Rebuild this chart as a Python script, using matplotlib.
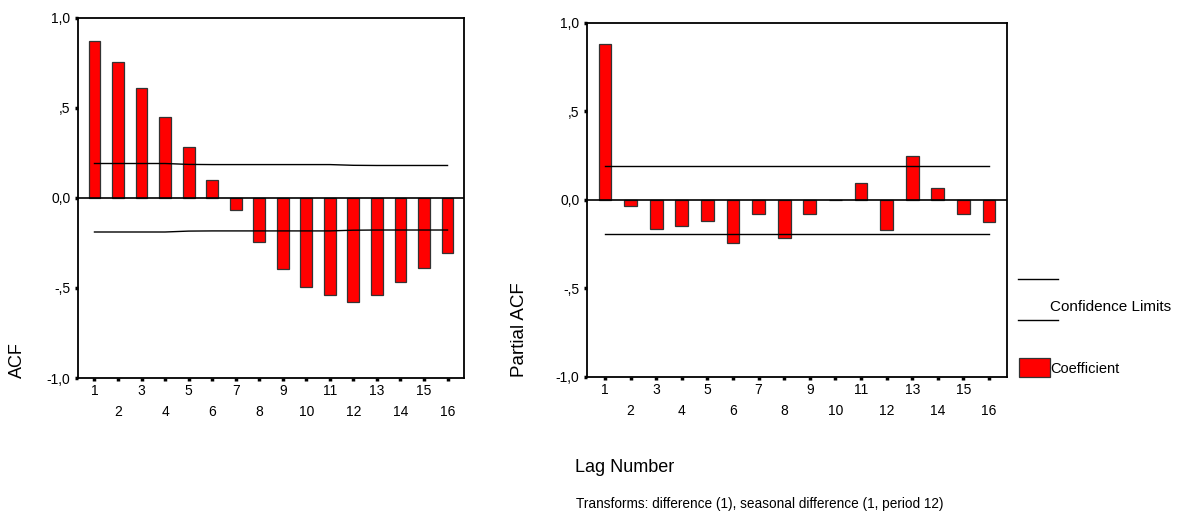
import matplotlib
matplotlib.use("Agg")
import matplotlib.pyplot as plt
from matplotlib.lines import Line2D
from matplotlib.patches import Rectangle

plt.rcParams['font.family'] = ['Liberation Sans', 'DejaVu Sans']

lags = list(range(1, 17))
acf = [0.872, 0.754, 0.607, 0.448, 0.283, 0.100, -0.070, -0.246,
       -0.393, -0.494, -0.539, -0.581, -0.539, -0.465, -0.387, -0.304]
acf_conf = [0.190, 0.190, 0.190, 0.190, 0.185, 0.184, 0.184, 0.184,
            0.184, 0.184, 0.184, 0.180, 0.179, 0.179, 0.179, 0.179]
pacf = [0.880, -0.034, -0.166, -0.150, -0.118, -0.245, -0.081, -0.213,
        -0.081, -0.003, 0.094, -0.173, 0.248, 0.068, -0.081, -0.126]
pacf_conf = [0.192] * 16

yticks = [-1.0, -0.5, 0.0, 0.5, 1.0]
yticklabels = ["-1,0", "-,5", "0,0", ",5", "1,0"]

W, H = 1182, 512
fig = plt.figure(figsize=(W / 100, H / 100), dpi=100)

def make_ax(x0, x1, ytop, ybot):
    return fig.add_axes([x0 / W, 1 - ybot / H, (x1 - x0) / W, (ybot - ytop) / H])

ax1 = make_ax(78, 464, 17.5, 378)
ax2 = make_ax(587, 1007, 22.7, 377)

def draw(ax, vals, conf):
    ax.bar(lags, vals, width=0.5, color='#ff0000', edgecolor='#333333', linewidth=0.9, zorder=2)
    ax.plot(lags, conf, color='black', linewidth=1.0, zorder=3)
    ax.plot(lags, [-c for c in conf], color='black', linewidth=1.0, zorder=3)
    ax.axhline(0, color='black', linewidth=1.2, zorder=4)
    ax.set_xlim(0.3, 16.7)
    ax.set_ylim(-1.0, 1.0)
    ax.set_yticks(yticks)
    ax.set_yticklabels(yticklabels)
    ax.set_xticks(lags)
    ax.set_xticklabels([str(l) if l % 2 else "\n" + str(l) for l in lags],
                       linespacing=1.65)
    ax.tick_params(axis='both', direction='out', length=2.5, width=2.5,
                   labelsize=10, color='black')
    ax.tick_params(axis='x', pad=2)
    ax.tick_params(axis='y', pad=3)
    for s in ax.spines.values():
        s.set_linewidth(1.3)
        s.set_color('black')

draw(ax1, acf, acf_conf)
draw(ax2, pacf, pacf_conf)

fig.text(17 / W, 1 - 378 / H, "ACF", rotation=90, fontsize=13, ha='center', va='bottom')
fig.text(520 / W, 1 - 377 / H, "Partial ACF", rotation=90, fontsize=13.5, ha='center', va='bottom')

fig.text(575 / W, 1 - 467 / H, "Lag Number", fontsize=13, ha='left', va='center')
fig.text(576 / W, 1 - 504 / H, "Transforms: difference (1), seasonal difference (1, period 12)",
         fontsize=9.8, ha='left', va='center')

# legend
for yy in (279, 320):
    fig.add_artist(Line2D([1018 / W, 1058 / W], [1 - yy / H, 1 - yy / H], color='black', linewidth=1.0))
fig.text(1050 / W, 1 - 307 / H, "Confidence Limits", fontsize=11, ha='left', va='center')
fig.add_artist(Rectangle((1019 / W, 1 - 377 / H), 31 / W, 19 / H, facecolor='#ff0000',
                         edgecolor='#333333', linewidth=0.9, transform=fig.transFigure))
fig.text(1050 / W, 1 - 369 / H, "Coefficient", fontsize=10.5, ha='left', va='center')

fig.savefig("out.png", dpi=100)
